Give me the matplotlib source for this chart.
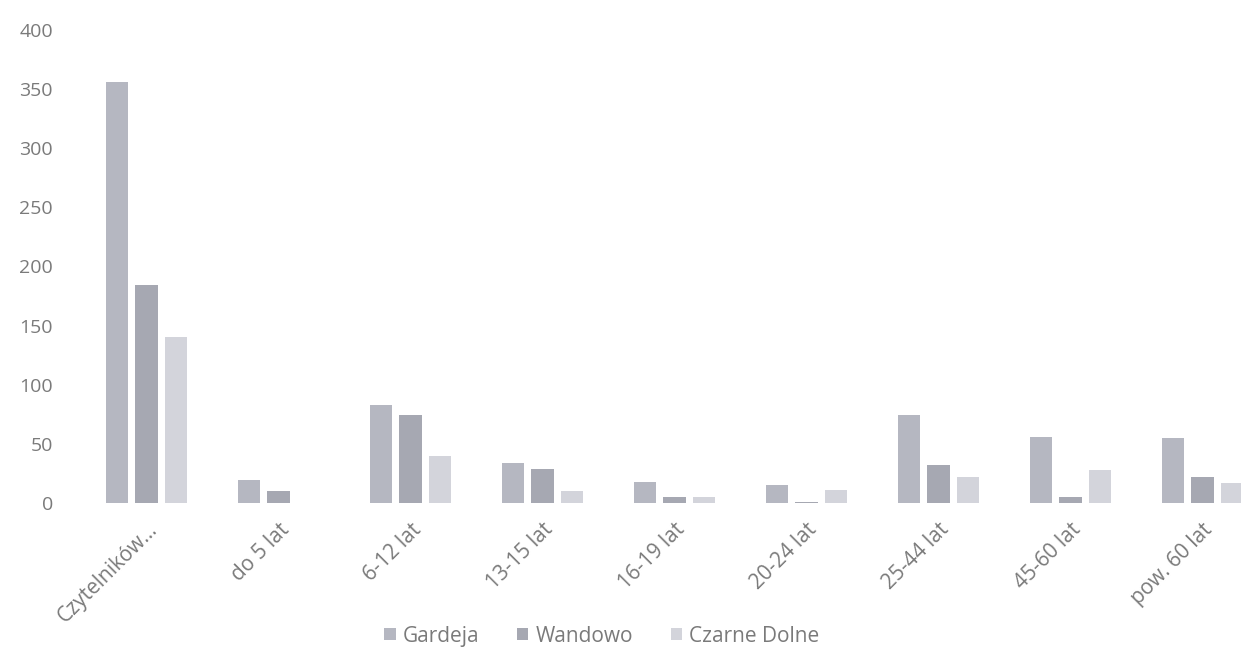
import numpy as np
import matplotlib.pyplot as plt
import matplotlib.transforms as mtransforms

# dane
kategorie = ['Czytelników...', 'do 5 lat', '6-12 lat', '13-15 lat', '16-19 lat',
             '20-24 lat', '25-44 lat', '45-60 lat', 'pow. 60 lat']
gardeja = [356, 19, 83, 34, 18, 15, 74, 56, 55]
wandowo = [184, 10, 74, 29, 5, 1, 32, 5, 22]
czarne_dolne = [140, 0, 40, 10, 5, 11, 22, 28, 17]
serie = ['Gardeja', 'Wandowo', 'Czarne Dolne']
kolory = ['#b5b7c1', '#a6a8b2', '#d3d4db']
y_ticks = [0, 50, 100, 150, 200, 250, 300, 350, 400]

plt.rcParams['font.family'] = ['Open Sans', 'DejaVu Sans']

fig = plt.figure(figsize=(12.41, 6.53), dpi=100)
ax = fig.add_axes([0.065, 0.23, 0.957, 0.724])

x = np.arange(len(kategorie))
szer = 0.17
krok = 0.223
for i, (dane, kol, nazwa) in enumerate(zip([gardeja, wandowo, czarne_dolne], kolory, serie)):
    ax.bar(x + (i - 1) * krok, dane, szer, color=kol, label=nazwa)

ax.set_xlim(-0.5, len(kategorie) - 0.5)
ax.set_ylim(0, 400)
ax.set_yticks(y_ticks)
ax.set_yticklabels([str(v) for v in y_ticks], fontsize=14, color='#7a7a7a')
ax.set_xticks(x)
ax.set_xticklabels(kategorie, rotation=45, ha='right', rotation_mode='anchor',
                   fontsize=15, color='#7a7a7a')
przes = mtransforms.ScaledTranslation(0.36, 0.06, fig.dpi_scale_trans)
for lab in ax.get_xticklabels():
    lab.set_transform(lab.get_transform() + przes)
ax.tick_params(axis='y', length=0, pad=20)
ax.tick_params(axis='x', length=0, pad=12)
for s in ax.spines.values():
    s.set_visible(False)

fig.legend(loc='center', bbox_to_anchor=(0.485, 0.026), ncol=3, frameon=False,
           fontsize=15, handlelength=0.55, handleheight=0.55, columnspacing=1.8,
           handletextpad=0.35, labelcolor='#7a7a7a')

fig.savefig('out.png', dpi=100)
